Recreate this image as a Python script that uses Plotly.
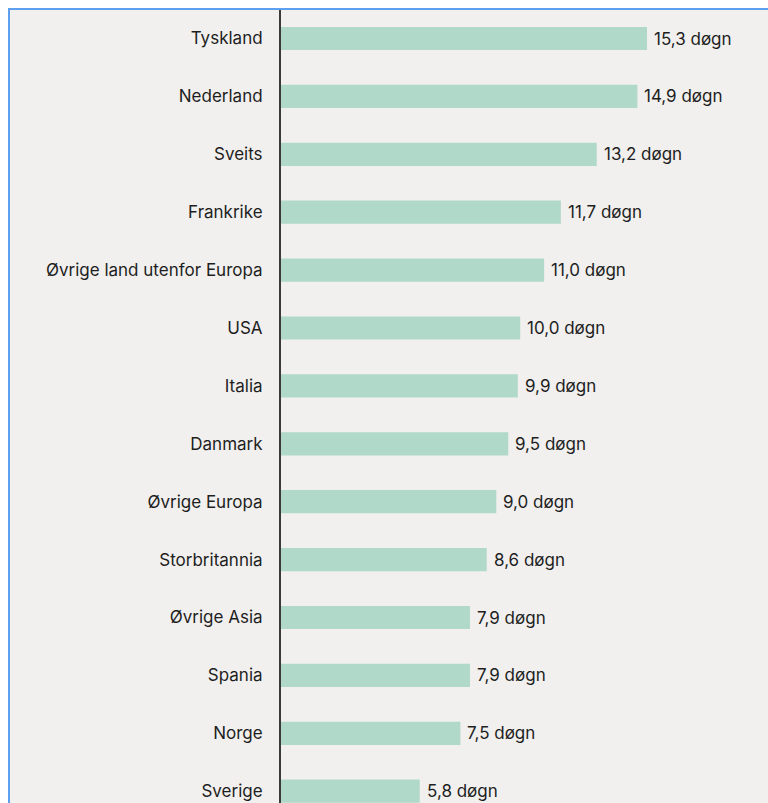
import plotly.graph_objects as go

countries = ["Tyskland", "Nederland", "Sveits", "Frankrike", "Øvrige land utenfor Europa",
             "USA", "Italia", "Danmark", "Øvrige Europa", "Storbritannia", "Øvrige Asia",
             "Spania", "Norge", "Sverige"]
days = [15.3, 14.9, 13.2, 11.7, 11.0, 10.0, 9.9, 9.5, 9.0, 8.6, 7.9, 7.9, 7.5, 5.8]
unit = "døgn"

labels = [f"{v:.1f}".replace(".", ",") + " " + unit for v in days]

W, H = 768, 803
axis_px = 281
top_m = 10
px_per_unit = (647 - 281) / 15.3
first_y, step = 38.5, 57.9

FONT = "Inter"
FS = 17

fig = go.Figure(go.Bar(
    x=days, y=countries, orientation="h",
    marker=dict(color="#b1d9ca", line=dict(width=0)),
    width=0.4,
    hoverinfo="skip",
))

for c, v, t in zip(countries, days, labels):
    fig.add_annotation(x=v, y=c, text=t, showarrow=False, xanchor="left",
                       xshift=5, yshift=0,
                       font=dict(family=FONT, size=FS, color="#1e1e1e"))

xmax = (W - axis_px) / px_per_unit
ytop = (top_m - first_y) / step
ybot = (H - first_y) / step

fig.update_layout(
    width=W, height=H,
    margin=dict(l=axis_px, r=0, t=top_m, b=0, pad=0),
    paper_bgcolor="white", plot_bgcolor="rgba(0,0,0,0)",
    showlegend=False,
    font=dict(family=FONT, size=FS, color="#1e1e1e"),
    xaxis=dict(range=[0, xmax], visible=False, fixedrange=True),
    yaxis=dict(range=[ybot, ytop], showgrid=False, zeroline=False,
               showline=True, linecolor="#3a3a3a", linewidth=2,
               layer="below traces", ticks="", ticklabelstandoff=13,
               fixedrange=True,
               tickfont=dict(size=FS, family=FONT, color="#1e1e1e")),
    shapes=[dict(type="rect", xref="paper", yref="paper", layer="below",
                 x0=(9 - axis_px) / (W - axis_px), x1=1.2,
                 y0=-0.2, y1=(H - 9) / (H - top_m),
                 fillcolor="#f1f0ee", line=dict(color="#5e9ff0", width=2))],
)

fig.write_html(
    "out.html",
    config={"displayModeBar": False},
    post_script="document.documentElement.style.overflow='hidden';"
                "document.body.style.margin='0';document.body.style.overflow='hidden';",
)
